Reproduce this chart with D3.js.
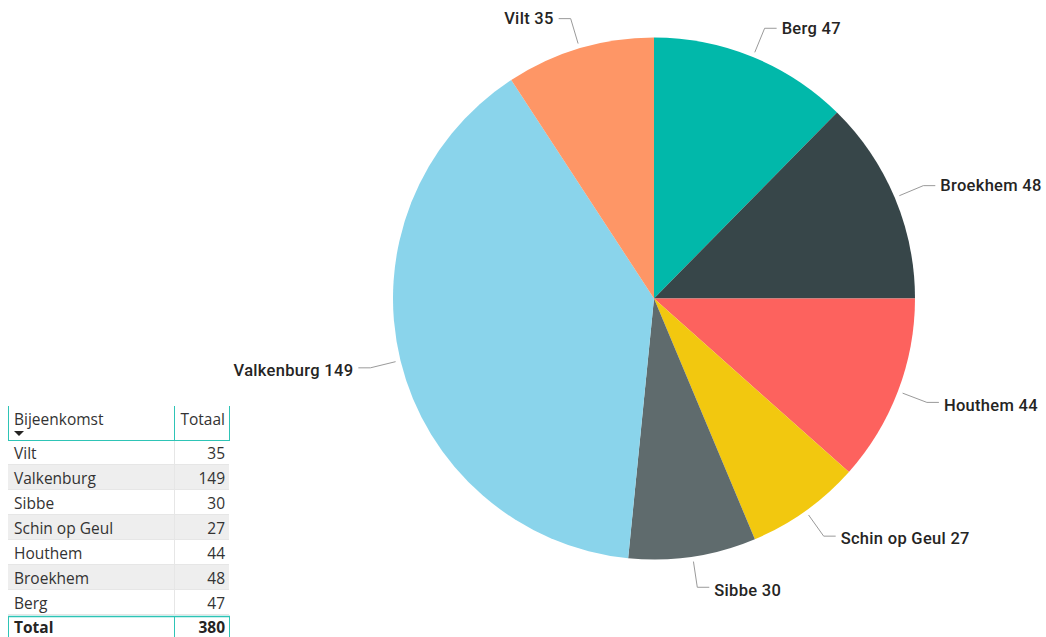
<!DOCTYPE html>
<html>
<head>
<meta charset="utf-8">
<script src="https://cdn.jsdelivr.net/npm/d3@7"></script>
<style>
  body { margin: 0; background: #fff; }
  svg { display: block; }
</style>
</head>
<body>
<div id="chart"></div>
<script>
// pie order, clockwise from 12 o'clock
const places = ['Berg', 'Broekhem', 'Houthem', 'Schin op Geul', 'Sibbe', 'Valkenburg', 'Vilt'];
const counts = [47, 48, 44, 27, 30, 149, 35];
const colors = ['#01B8AA', '#374649', '#FD625E', '#F2C80F', '#5F6B6D', '#8AD4EB', '#FE9666'];
const tableHeader = ['Bijeenkomst', 'Totaal'];
const totalLabel = 'Total';

const w = 1046, h = 637;
const cx = 654, cy = 298.5, r = 261;

const svg = d3.select('#chart').append('svg')
    .attr('width', w)
    .attr('height', h);

const data = places.map((p, i) => ({name: p, value: counts[i], color: colors[i]}));

const pie = d3.pie().sort(null).value(d => d.value);
const arcs = pie(data);
const arc = d3.arc().innerRadius(0).outerRadius(r);

const g = svg.append('g').attr('transform', `translate(${cx},${cy})`);

g.selectAll('path')
    .data(arcs)
    .enter()
    .append('path')
    .attr('d', arc)
    .style('fill', d => d.data.color);

// leader lines + labels
const inner = d3.arc().innerRadius(r + 5).outerRadius(r + 5);
const outer = d3.arc().innerRadius(r + 31).outerRadius(r + 31);

arcs.forEach(d => {
    const a = (d.startAngle + d.endAngle) / 2;
    const p1 = inner.centroid(d);
    const p2 = outer.centroid(d);
    const right = Math.sin(a) >= 0;
    const lower = Math.cos(a) < 0;
    const p3 = [p2[0] + (right ? 12 : -12), p2[1]];
    g.append('polyline')
        .attr('points', [p1, p2, p3].map(p => p.join(',')).join(' '))
        .style('fill', 'none')
        .style('stroke', '#9a9a9a')
        .style('stroke-width', 1);
    g.append('text')
        .attr('x', p3[0] + (right ? 5 : -5))
        .attr('y', p3[1] + (lower ? 2.5 : 0))
        .attr('dy', '0.35em')
        .attr('text-anchor', right ? 'start' : 'end')
        .style('font-family', 'Roboto, sans-serif')
        .style('font-weight', 500)
        .style('font-size', '16.5px')
        .style('letter-spacing', '0.3px')
        .style('fill', '#252423')
        .text(`${d.data.name} ${d.data.value}`);
});

// table (listed in reverse pie order)
const tx = 8, tColX = 174, tRight = 229;
const headTop = 406, headBottom = 440, rowH = 25;
const rows = data.slice().reverse();
const teal = '#2EC4B6';
const tfont = '"Open Sans", "Segoe UI", sans-serif';
const tsize = '15.5px';

const tbl = svg.append('g');

rows.forEach((d, i) => {
    const y0 = headBottom + i * rowH;
    tbl.append('rect')
        .attr('x', tx).attr('y', y0)
        .attr('width', tRight - tx).attr('height', rowH)
        .style('fill', i % 2 === 1 ? '#EEEEEE' : '#FFFFFF');
    tbl.append('line')
        .attr('x1', tx).attr('x2', tRight)
        .attr('y1', y0 + rowH - 0.5).attr('y2', y0 + rowH - 0.5)
        .style('stroke', '#E6E6E6');
    tbl.append('line')
        .attr('x1', tColX + 0.5).attr('x2', tColX + 0.5)
        .attr('y1', y0).attr('y2', y0 + rowH)
        .style('stroke', '#E6E6E6');
    tbl.append('text')
        .attr('x', 14).attr('y', y0 + rowH / 2 + 6.5)
        .style('font-family', tfont).style('font-size', tsize)
        .style('fill', '#333333')
        .text(d.name);
    tbl.append('text')
        .attr('x', 225).attr('y', y0 + rowH / 2 + 6.5)
        .attr('text-anchor', 'end')
        .style('font-family', tfont).style('font-size', tsize)
        .style('fill', '#333333')
        .text(d.value);
});

// header
tbl.append('text')
    .attr('x', 14).attr('y', 425)
    .style('font-family', tfont).style('font-size', tsize)
    .style('fill', '#333333')
    .text(tableHeader[0]);
tbl.append('text')
    .attr('x', 225).attr('y', 425)
    .attr('text-anchor', 'end')
    .style('font-family', tfont).style('font-size', tsize)
    .style('fill', '#333333')
    .text(tableHeader[1]);
tbl.append('path')
    .attr('d', 'M14,431 L24,431 L19,436 Z')
    .style('fill', '#252423');

[tx, tColX, tRight].forEach(x => {
    tbl.append('line')
        .attr('x1', x + 0.5).attr('x2', x + 0.5)
        .attr('y1', headTop).attr('y2', headBottom)
        .style('stroke', teal);
});
tbl.append('line')
    .attr('x1', tx).attr('x2', tRight + 1)
    .attr('y1', headBottom + 0.5).attr('y2', headBottom + 0.5)
    .style('stroke', teal);

// total row
const totalTop = headBottom + rows.length * rowH + 1;
tbl.append('line')
    .attr('x1', tx).attr('x2', tRight + 1)
    .attr('y1', totalTop + 0.5).attr('y2', totalTop + 0.5)
    .style('stroke', teal).style('stroke-width', 1.5);
[tx, tColX, tRight].forEach(x => {
    tbl.append('line')
        .attr('x1', x + 0.5).attr('x2', x + 0.5)
        .attr('y1', totalTop).attr('y2', h)
        .style('stroke', teal);
});
tbl.append('text')
    .attr('x', 14).attr('y', totalTop + 17)
    .style('font-family', tfont).style('font-size', tsize).style('font-weight', 700)
    .style('fill', '#252423')
    .text(totalLabel);
tbl.append('text')
    .attr('x', 225).attr('y', totalTop + 17)
    .attr('text-anchor', 'end')
    .style('font-family', tfont).style('font-size', tsize).style('font-weight', 700)
    .style('fill', '#252423')
    .text(d3.sum(counts));
</script>
</body>
</html>
